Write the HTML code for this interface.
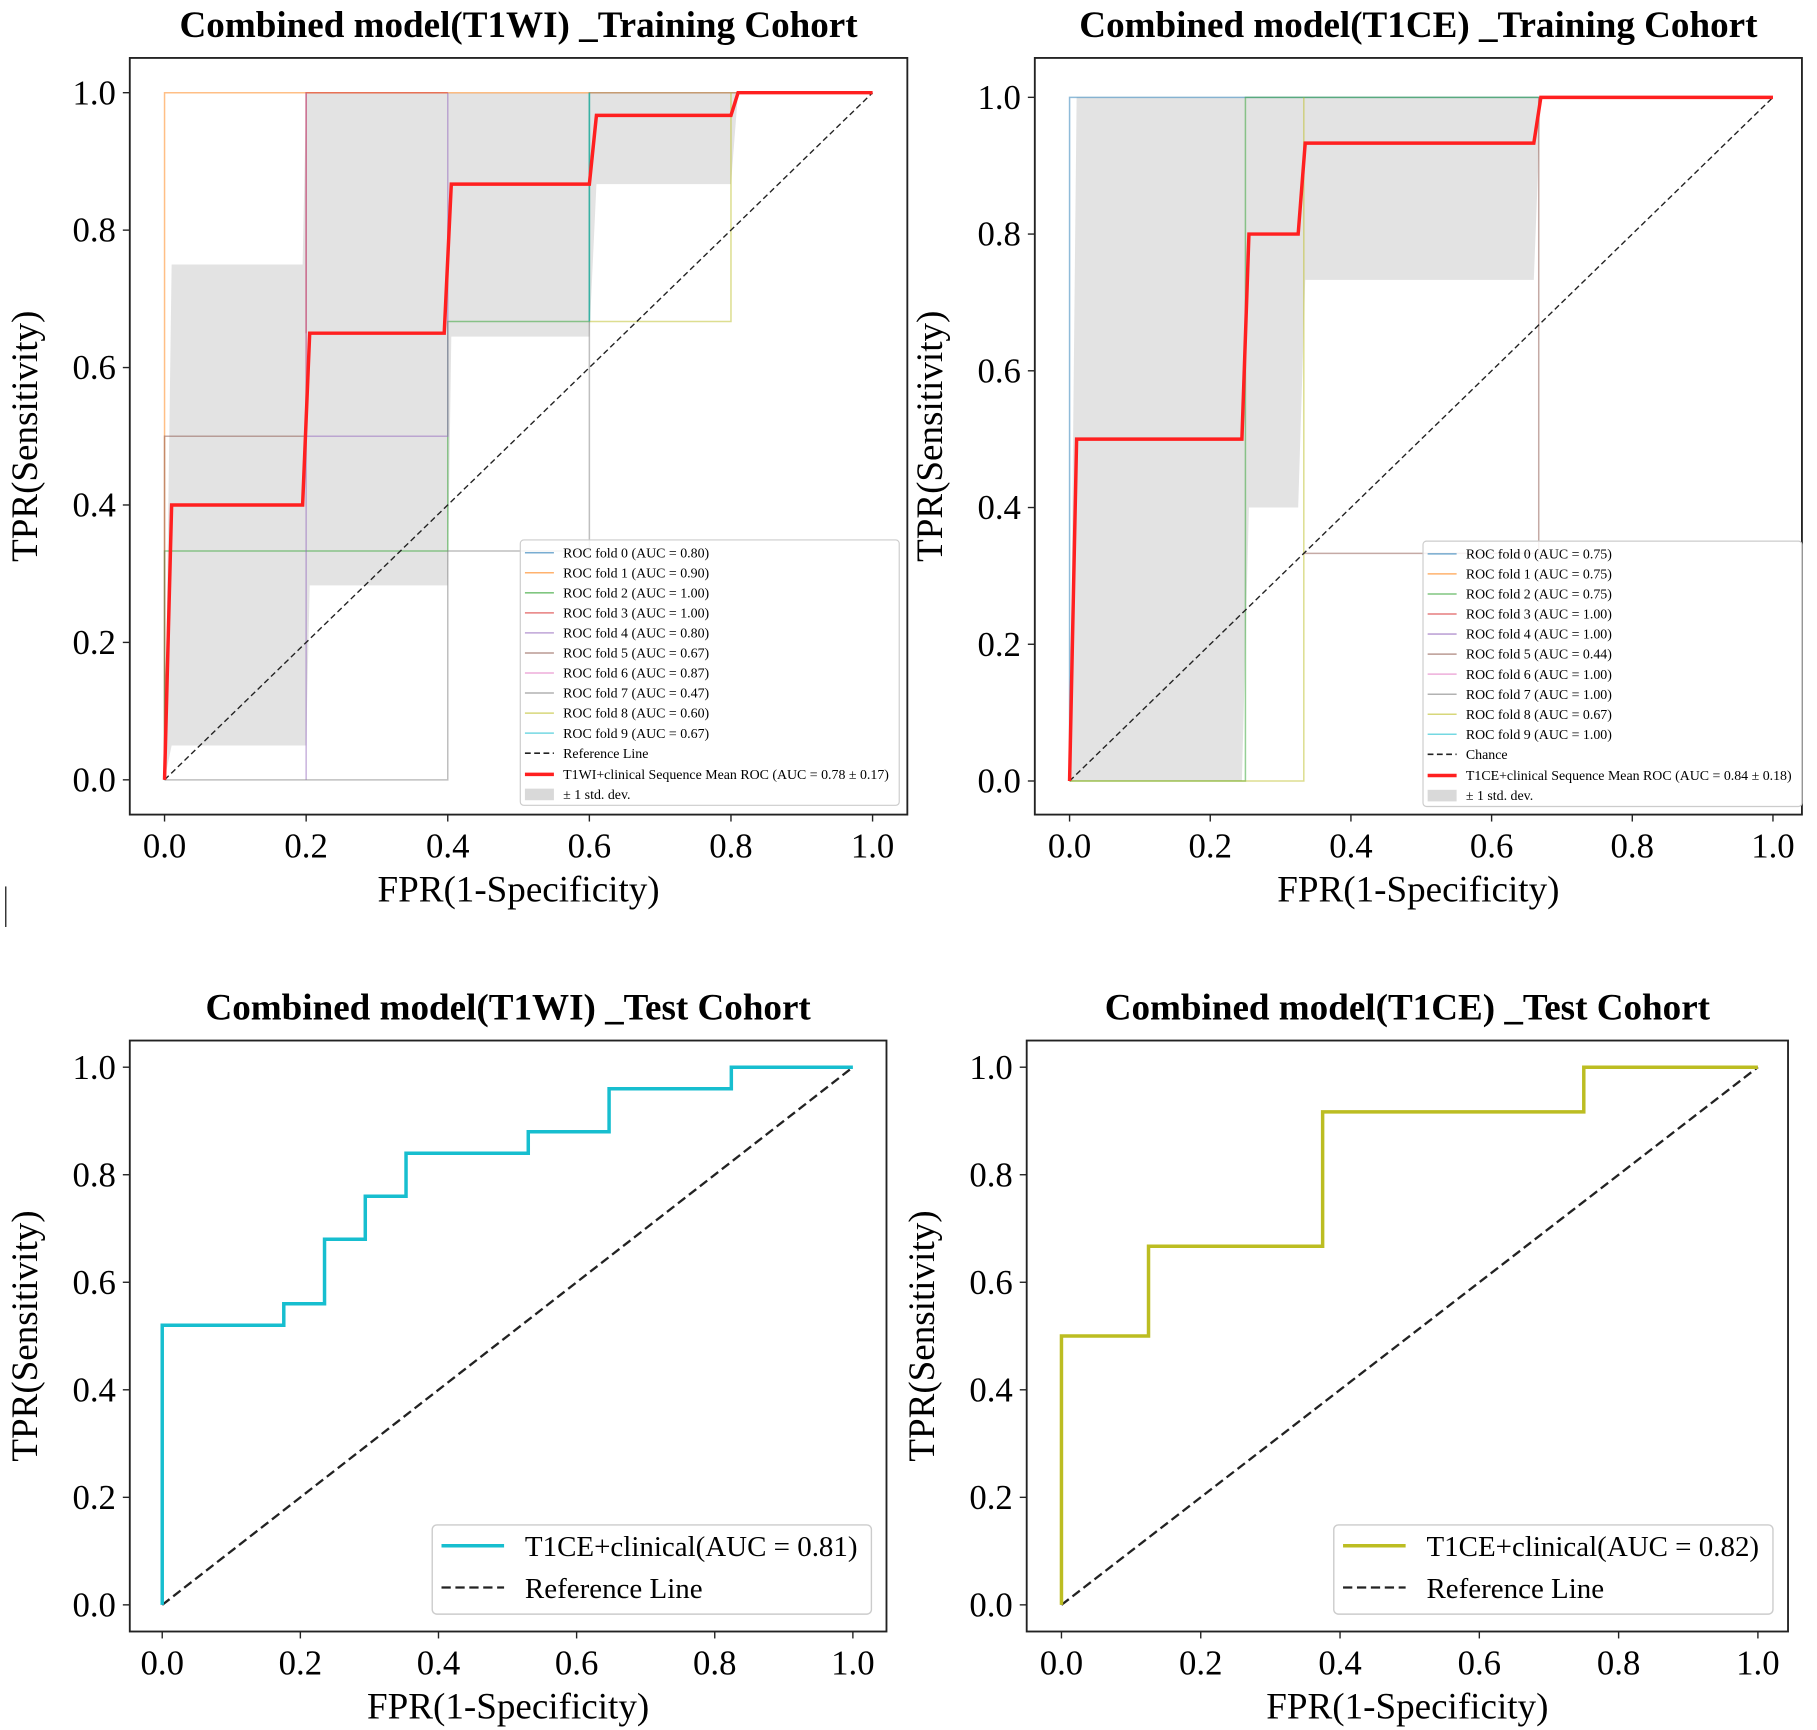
<!DOCTYPE html>
<html><head><meta charset="utf-8"><style>
html,body{margin:0;padding:0;background:#fff}
svg{display:block}
text{font-family:"Liberation Serif",serif;fill:#000}
</style></head><body>
<svg id="s" width="1817" height="1730" viewBox="0 0 1568 1493" preserveAspectRatio="none" xmlns="http://www.w3.org/2000/svg">
<rect width="1568" height="1493" fill="#fff"/>
<line x1="5" y1="765" x2="5" y2="800" stroke="#000" stroke-width="1"/>
</svg>
<script>
// ---- data ----
const ticks=[0,0.2,0.4,0.6,0.8,1.0];
const tickLabels=["0.0","0.2","0.4","0.6","0.8","1.0"];
const tlMeanX=[0,0.01,0.195,0.205,0.395,0.405,0.6,0.61,0.8,0.81,1];
const tlMeanY=[0,0.4,0.4,0.65,0.65,0.867,0.867,0.967,0.967,1,1];
const tlBandUpX=[0,0.01,0.195,0.2,1];
const tlBandUpY=[0,0.75,0.75,1,1];
const tlBandLoX=[1,0.81,0.8,0.61,0.6,0.405,0.4,0.205,0.2,0.01,0];
const tlBandLoY=[1,1,0.867,0.867,0.645,0.645,0.283,0.283,0.05,0.05,0];
const tlFolds=[
 {c:"#1f77b4",x:[0.6,0.6,1],y:[0.667,1,1]},
 {c:"#ff7f0e",x:[0,0,1],y:[0,1,1]},
 {c:"#2ca02c",x:[0,0,0.4,0.4,0.6,0.6],y:[0,0.333,0.333,0.667,0.667,1]},
 {c:"#d62728",x:[0.2,0.2,0.4],y:[0.65,1,1]},
 {c:"#9467bd",x:[0.2,0.2,0.4,0.4],y:[0,0.5,0.5,1]},
 {c:"#8c564b",x:[0,0,0.2,0.2],y:[0,0.5,0.5,1]},
 {c:"#e377c2",x:[0.2,0.2],y:[0.5,1]},
 {c:"#7f7f7f",x:[0,0.4,0.4,0.6,0.6],y:[0,0,0.333,0.333,0.667]},
 {c:"#bcbd22",x:[0.6,0.8,0.8],y:[0.667,0.667,1]},
 {c:"#17becf",x:[0.6,0.6],y:[0.667,1]}
];
const tlAUC=["0.80","0.90","1.00","1.00","0.80","0.67","0.87","0.47","0.60","0.67"];
const trMeanX=[0,0.01,0.245,0.255,0.325,0.335,0.66,0.67,1];
const trMeanY=[0,0.5,0.5,0.8,0.8,0.933,0.933,1,1];
const trBandUpX=[0,0.01,1];
const trBandUpY=[0,1,1];
const trBandLoX=[1,0.67,0.66,0.335,0.325,0.255,0.245,0.01,0];
const trBandLoY=[1,1,0.733,0.733,0.4,0.4,0,0,0];
const trFolds=[
 {c:"#1f77b4",x:[0,0,1],y:[0,1,1]},
 {c:"#2ca02c",x:[0,0.25,0.25,0.667],y:[0,0,1,1]},
 {c:"#bcbd22",x:[0,0.333,0.333],y:[0,0,1]},
 {c:"#8c564b",x:[0.333,0.667,0.667],y:[0.333,0.333,1]}
];
const trAUC=["0.75","0.75","0.75","1.00","1.00","0.44","1.00","1.00","0.67","1.00"];
const blX=[0,0,0.176,0.176,0.235,0.235,0.294,0.294,0.353,0.353,0.53,0.53,0.647,0.647,0.824,0.824,1];
const blY=[0,0.52,0.52,0.56,0.56,0.68,0.68,0.76,0.76,0.84,0.84,0.88,0.88,0.96,0.96,1,1];
const brX=[0,0,0.125,0.125,0.375,0.375,0.75,0.75,1];
const brY=[0,0.5,0.5,0.667,0.667,0.917,0.917,1,1];
const foldColors=["#1f77b4","#ff7f0e","#2ca02c","#d62728","#9467bd","#8c564b","#e377c2","#7f7f7f","#bcbd22","#17becf"];

const svg=document.getElementById('s');
const NS="http://www.w3.org/2000/svg";
function mk(tag,attrs,parent){const e=document.createElementNS(NS,tag);for(const k in attrs)e.setAttribute(k,attrs[k]);(parent||svg).appendChild(e);return e;}
function txt(s,attrs,parent){const e=mk('text',attrs,parent);e.textContent=s;return e;}

function panel(p){
 const g=mk('g',{});
 
 
 const sx=v=>p.x0+(p.x1-p.x0)*v, sy=v=>p.y0+(p.y1-p.y0)*v;
 const fr=mk('rect',{x:p.fx0,y:p.fy0,width:p.fx1-p.fx0,height:p.fy1-p.fy0,fill:'none',stroke:'#222','stroke-width':1.6},g);
 
 
 const t=txt(p.title,{x:(p.fx0+p.fx1)/2,y:p.fy0-18,'text-anchor':'middle','font-size':32,'font-weight':'bold'},g);
 
 
 ticks.forEach((v,i)=>{
  mk('line',{x1:sx(v),x2:sx(v),y1:p.fy1,y2:p.fy1+6,stroke:'#222','stroke-width':1.2},g);
  const a=txt(tickLabels[i],{x:sx(v),y:p.fy1+37,'text-anchor':'middle','font-size':30},g);
  
  
  mk('line',{x1:p.fx0-6,x2:p.fx0,y1:sy(v),y2:sy(v),stroke:'#222','stroke-width':1.2},g);
  const b=txt(tickLabels[i],{x:p.fx0-12,y:sy(v)+10,'text-anchor':'end','font-size':30},g);
  
  
 });
 const xl=txt('FPR(1-Specificity)',{x:(p.fx0+p.fx1)/2,y:p.fy1+75,'text-anchor':'middle','font-size':32},g);
 
 
 const cy=(p.fy0+p.fy1)/2;
 const yl=txt('TPR(Sensitivity)',{x:0,y:0,'text-anchor':'middle','font-size':32,transform:`translate(${p.fx0-80},${cy}) rotate(-90)`},g);
 
 
 const pts=(X,Y)=>X.map((x,i)=>sx(x)+','+sy(Y[i])).join(' ');
 if(p.bandUpX){
  const band=mk('polygon',{points:pts(p.bandUpX,p.bandUpY)+' '+pts(p.bandLoX,p.bandLoY),fill:'#d9d9d9','fill-opacity':0.75},g);
  
  
 }
 (p.folds||[]).forEach((f,i)=>{
  const l=mk('polyline',{points:pts(f.x,f.y),fill:'none',stroke:f.c,'stroke-opacity':0.5,'stroke-width':1.3},g);
  
  
 });
 const ref=mk('line',{x1:sx(0),y1:sy(0),x2:sx(1),y2:sy(1),stroke:'#222','stroke-width':p.refW,'stroke-dasharray':p.refDash},g);
 
 
 const m=mk('polyline',{points:pts(p.mX,p.mY),fill:'none',stroke:p.mC,'stroke-width':3,'stroke-linejoin':'miter'},g);
 
 
 return {g,sx,sy};
}

function smallLegend(g,x0,y0,auc,refLabel,meanLabel){
 const lg=mk('g',{},g);
 
 
 mk('rect',{x:x0,y:y0,width:327,height:229,fill:'#fff','fill-opacity':0.85,stroke:'#ccc','stroke-width':1,rx:3},lg);
 const step=17.3;
 auc.forEach((a,i)=>{
  const y=y0+11+i*step;
  const ln=mk('line',{x1:x0+4,x2:x0+29,y1:y,y2:y,stroke:foldColors[i],'stroke-opacity':0.6,'stroke-width':1.3},lg);
  
  
  const t=txt(`ROC fold ${i} (AUC = ${a})`,{x:x0+37,y:y+4,'font-size':12},lg);
  
  
 });
 let y=y0+11+10*step;
 mk('line',{x1:x0+4,x2:x0+29,y1:y,y2:y,stroke:'#222','stroke-width':1.4,'stroke-dasharray':'5,3'},lg);
 const r=txt(refLabel,{x:x0+37,y:y+4,'font-size':12},lg);
 
 
 y+=step+1;
 mk('line',{x1:x0+4,x2:x0+29,y1:y,y2:y,stroke:'#ff2020','stroke-width':3},lg);
 const mm=txt(meanLabel,{x:x0+37,y:y+4,'font-size':12},lg);
 
 
 y+=step;
 mk('rect',{x:x0+4,y:y-5,width:25,height:10,fill:'#d9d9d9'},lg);
 const sd=txt('± 1 std. dev.',{x:x0+37,y:y+4,'font-size':12},lg);
 
 
}

function bigLegend(g,x0,y0,color,label){
 const lg=mk('g',{},g);
 
 
 mk('rect',{x:x0,y:y0,width:379,height:77,fill:'#fff',stroke:'#ccc','stroke-width':1.2,rx:4},lg);
 mk('line',{x1:x0+8,x2:x0+62,y1:y0+18,y2:y0+18,stroke:color,'stroke-width':3},lg);
 const a=txt(label,{x:x0+80,y:y0+27,'font-size':25},lg);
 
 
 mk('line',{x1:x0+8,x2:x0+62,y1:y0+54,y2:y0+54,stroke:'#222','stroke-width':2,'stroke-dasharray':'8,4'},lg);
 const b=txt('Reference Line',{x:x0+80,y:y0+63,'font-size':25},lg);
 
 
}

const tl=panel({name:'t1wi-training-panel',title:'Combined model(T1WI) _Training Cohort',fx0:112,fx1:783,fy0:50,fy1:703,x0:142,x1:753,y0:673,y1:80,
 bandUpX:tlBandUpX,bandUpY:tlBandUpY,bandLoX:tlBandLoX,bandLoY:tlBandLoY,folds:tlFolds,mX:tlMeanX,mY:tlMeanY,mC:'#ff2020',refW:1.2,refDash:'5,3'});
smallLegend(tl.g,449,466,tlAUC,'Reference Line','T1WI+clinical Sequence Mean ROC (AUC = 0.78 ± 0.17)');

const tr=panel({name:'t1ce-training-panel',title:'Combined model(T1CE) _Training Cohort',fx0:893,fx1:1555,fy0:50,fy1:703,x0:923,x1:1530,y0:674,y1:84,
 bandUpX:trBandUpX,bandUpY:trBandUpY,bandLoX:trBandLoX,bandLoY:trBandLoY,folds:trFolds,mX:trMeanX,mY:trMeanY,mC:'#ff2020',refW:1.2,refDash:'5,3'});
smallLegend(tr.g,1228,467,trAUC,'Chance','T1CE+clinical Sequence Mean ROC (AUC = 0.84 ± 0.18)');

const bl=panel({name:'t1wi-test-panel',title:'Combined model(T1WI) _Test Cohort',fx0:112,fx1:765,fy0:898,fy1:1408,x0:140,x1:736,y0:1385,y1:921,
 mX:blX,mY:blY,mC:'#17becf',refW:2,refDash:'8,4'});
bigLegend(bl.g,373,1316,'#17becf','T1CE+clinical(AUC = 0.81)');

const br=panel({name:'t1ce-test-panel',title:'Combined model(T1CE) _Test Cohort',fx0:886,fx1:1543,fy0:898,fy1:1408,x0:916,x1:1517,y0:1385,y1:921,
 mX:brX,mY:brY,mC:'#bcbd22',refW:2,refDash:'8,4'});
bigLegend(br.g,1151,1316,'#bcbd22','T1CE+clinical(AUC = 0.82)');
</script>
</body></html>
